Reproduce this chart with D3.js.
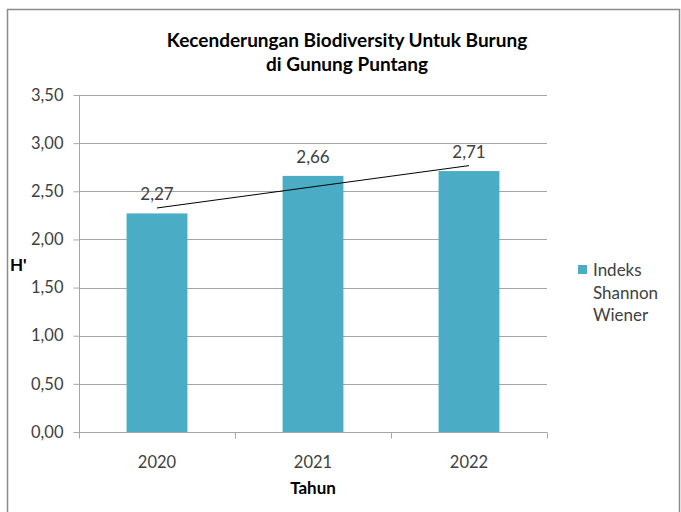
<!DOCTYPE html>
<html>
<head>
<meta charset="UTF-8">
<title>Kecenderungan Biodiversity</title>
<style>
html, body {
    margin: 0;
    padding: 0;
    background-color: #fff;
}
svg text {
    font-family: Lato, "Open Sans", sans-serif;
    fill: #404040;
}
</style>
</head>
<body>
<div class="chart"></div>
<script src="https://cdn.jsdelivr.net/npm/d3@7/dist/d3.min.js"></script>
<script>
let years = ['2020', '2021', '2022'];
let values = [2.27, 2.66, 2.71];
let yTicks = [0, 0.5, 1, 1.5, 2, 2.5, 3, 3.5];

let width = 681, height = 512;
let plotLeft = 79, plotRight = 547, plotTop = 95, plotBottom = 432;

let svg = d3.select('.chart').append('svg')
    .attr('width', width)
    .attr('height', height);

// chart frame
svg.append('rect')
    .attr('x', 7.5).attr('y', 9.5)
    .attr('width', 672).attr('height', 520)
    .attr('fill', 'none')
    .attr('stroke', '#8c8c8c')
    .attr('stroke-width', 1.5);

let x = d3.scaleBand()
    .domain(years)
    .range([plotLeft, plotRight])
    .paddingInner(0.61)
    .paddingOuter(0.305);

let y = d3.scaleLinear()
    .domain([0, 3.5])
    .range([plotBottom, plotTop]);

let fmt = (d) => d3.format('.2f')(d).replace('.', ',');

// gridlines
svg.append('g')
    .selectAll('line')
    .data(yTicks.filter((d) => d > 0))
    .enter().append('line')
    .attr('x1', plotLeft).attr('x2', plotRight)
    .attr('y1', (d) => Math.round(y(d)) + 0.5)
    .attr('y2', (d) => Math.round(y(d)) + 0.5)
    .attr('stroke', '#a6a6a6');

// y axis
let yAxis = svg.append('g')
    .attr('transform', `translate(${plotLeft + 0.5},0)`)
    .call(d3.axisLeft(y).tickValues(yTicks).tickFormat(fmt).tickSize(6).tickPadding(10));
yAxis.select('.domain').attr('stroke', '#a6a6a6').attr('d', `M0,${plotTop}V${plotBottom + 6}`);
yAxis.selectAll('.tick line').attr('stroke', '#a6a6a6');
yAxis.selectAll('.tick text').style('font-size', '16.5px').style('fill', '#404040');

// bars
svg.append('g')
    .selectAll('rect')
    .data(values)
    .enter().append('rect')
    .attr('x', (d, i) => x(years[i]))
    .attr('y', (d) => y(d))
    .attr('width', x.bandwidth())
    .attr('height', (d) => y(0) - y(d))
    .attr('fill', '#4bacc6');

// x axis
let band = (plotRight - plotLeft) / years.length;
let xAxis = svg.append('g')
    .attr('transform', `translate(0,${plotBottom + 0.5})`);
xAxis.append('line')
    .attr('x1', plotLeft).attr('x2', plotRight)
    .attr('stroke', '#a6a6a6');
xAxis.selectAll('.xt')
    .data(d3.range(years.length + 1))
    .enter().append('line')
    .attr('x1', (i) => Math.round(plotLeft + i * band) + 0.5)
    .attr('x2', (i) => Math.round(plotLeft + i * band) + 0.5)
    .attr('y1', 0).attr('y2', 6)
    .attr('stroke', '#a6a6a6');
xAxis.selectAll('text')
    .data(years)
    .enter().append('text')
    .attr('x', (d) => x(d) + x.bandwidth() / 2)
    .attr('y', 35)
    .attr('text-anchor', 'middle')
    .style('font-size', '16.5px')
    .text((d) => d);

// value labels
svg.append('g')
    .selectAll('text')
    .data(values)
    .enter().append('text')
    .attr('x', (d, i) => x(years[i]) + x.bandwidth() / 2)
    .attr('y', (d) => y(d) - 13)
    .attr('text-anchor', 'middle')
    .style('font-size', '17px')
    .text(fmt);

// linear trendline
let n = values.length;
let xm = d3.mean(d3.range(n)), ym = d3.mean(values);
let slope = d3.sum(values, (d, i) => (i - xm) * (d - ym)) / d3.sum(d3.range(n), (i) => (i - xm) * (i - xm));
let icpt = ym - slope * xm;
let cx = (i) => x(years[i]) + x.bandwidth() / 2;
svg.append('line')
    .attr('x1', cx(0)).attr('y1', y(icpt))
    .attr('x2', cx(n - 1)).attr('y2', y(icpt + slope * (n - 1)))
    .attr('stroke', '#000')
    .attr('stroke-width', 1);

// titles
let title = svg.append('text')
    .attr('text-anchor', 'middle')
    .style('font-size', '19px')
    .style('font-weight', 'bold')
    .style('fill', '#000');
title.append('tspan').attr('x', 347).attr('y', 47).text('Kecenderungan Biodiversity Untuk Burung');
title.append('tspan').attr('x', 347).attr('y', 71).text('di Gunung Puntang');

svg.append('text')
    .attr('x', (plotLeft + plotRight) / 2)
    .attr('y', 494)
    .attr('text-anchor', 'middle')
    .style('font-size', '17px')
    .style('font-weight', 'bold')
    .style('fill', '#000')
    .text('Tahun');

svg.append('text')
    .attr('x', 10)
    .attr('y', 271)
    .style('font-size', '17px')
    .style('font-weight', 'bold')
    .style('fill', '#000')
    .text("H'");

// legend
let legend = svg.append('g').attr('transform', 'translate(578,265)');
legend.append('rect')
    .attr('width', 9).attr('height', 9)
    .attr('fill', '#4bacc6');
legend.append('text')
    .selectAll('tspan')
    .data(['Indeks', 'Shannon', 'Wiener'])
    .enter().append('tspan')
    .attr('x', 15)
    .attr('y', (d, i) => 11 + i * 22.5)
    .style('font-size', '17px')
    .text((d) => d);
</script>
</body>
</html>
